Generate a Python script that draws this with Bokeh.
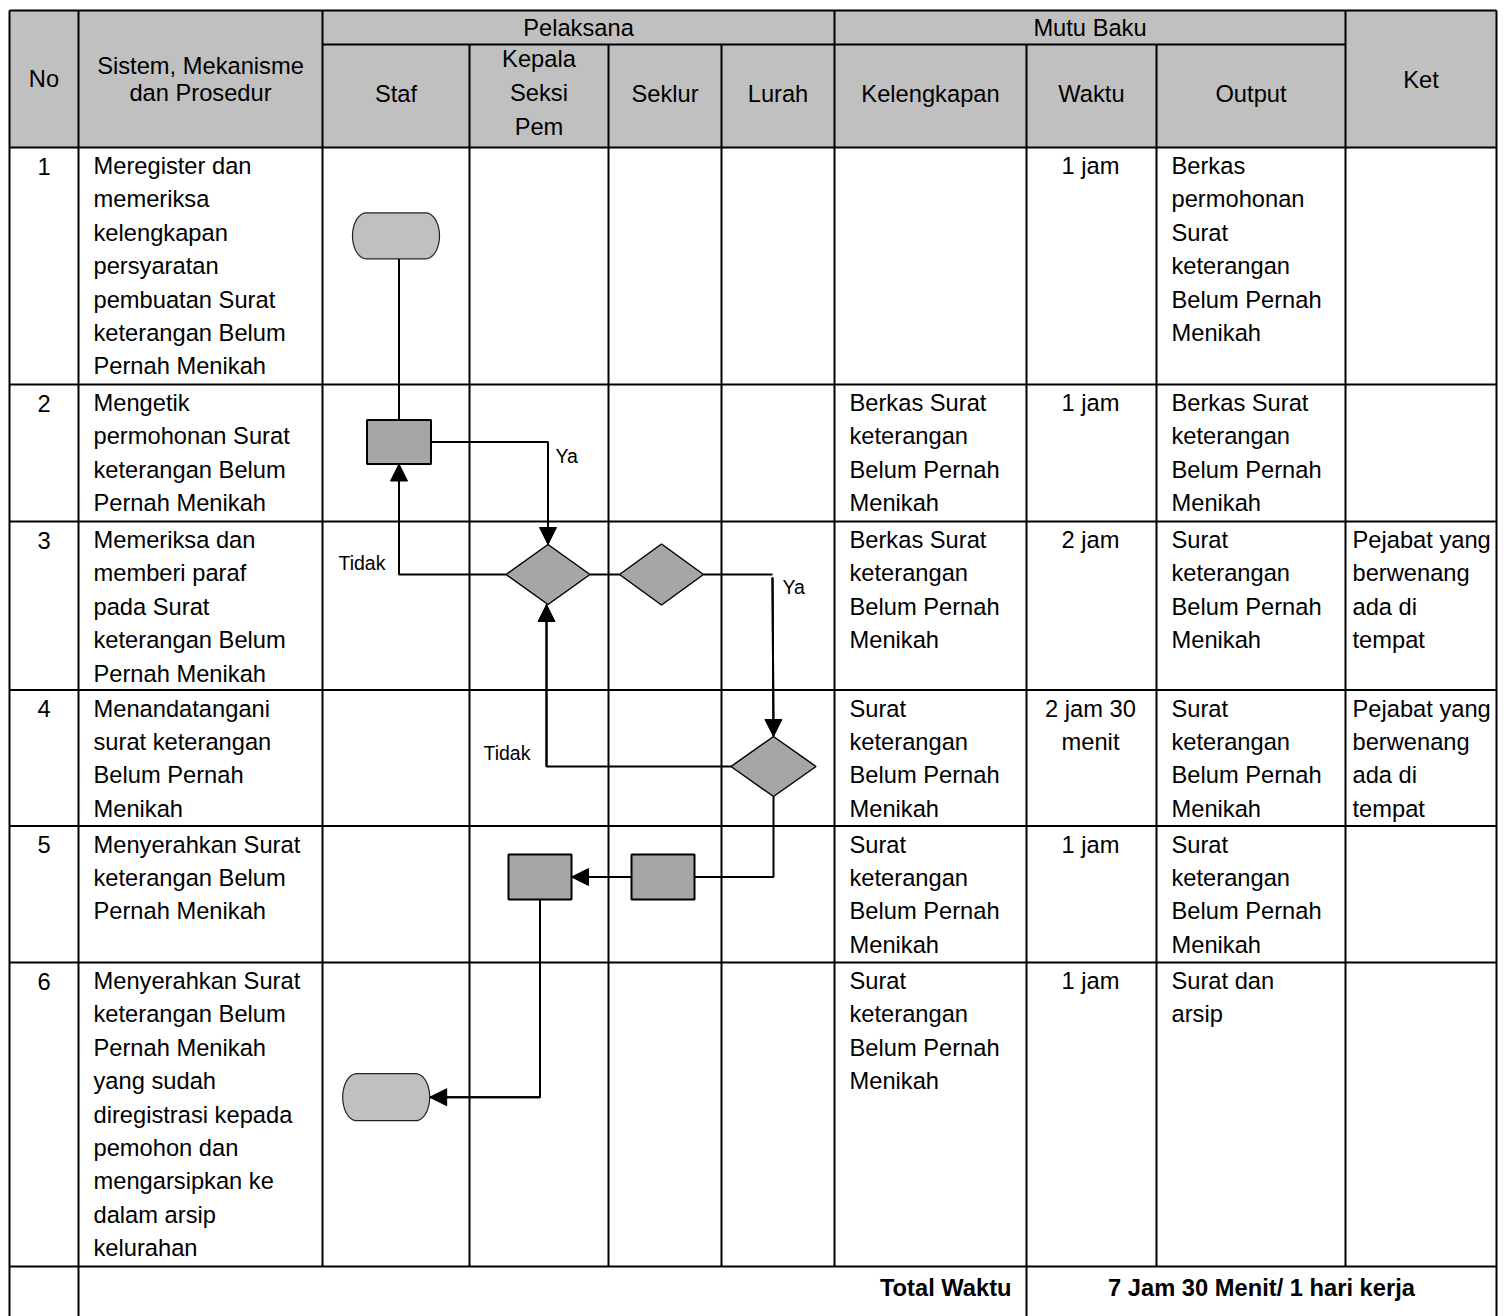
import numpy as np
from bokeh.plotting import figure
from bokeh.models import Range1d, ColumnDataSource, Arrow, NormalHead
from bokeh.core.properties import value
from bokeh.embed import file_html
from bokeh.resources import INLINE

# ---------------- data ----------------
group_headers = ["Pelaksana", "Mutu Baku"]
col_headers = {
    "No": ["No"],
    "Sistem": ["Sistem, Mekanisme", "dan Prosedur"],
    "Staf": ["Staf"],
    "Kepala": ["Kepala", "Seksi", "Pem"],
    "Seklur": ["Seklur"],
    "Lurah": ["Lurah"],
    "Kelengkapan": ["Kelengkapan"],
    "Waktu": ["Waktu"],
    "Output": ["Output"],
    "Ket": ["Ket"],
}
no_labels = ["1", "2", "3", "4", "5", "6"]
prosedur = [
    ["Meregister dan", "memeriksa", "kelengkapan", "persyaratan",
     "pembuatan Surat", "keterangan Belum", "Pernah Menikah"],
    ["Mengetik", "permohonan Surat", "keterangan Belum", "Pernah Menikah"],
    ["Memeriksa dan", "memberi paraf", "pada Surat", "keterangan Belum",
     "Pernah Menikah"],
    ["Menandatangani", "surat keterangan", "Belum Pernah", "Menikah"],
    ["Menyerahkan Surat", "keterangan Belum", "Pernah Menikah"],
    ["Menyerahkan Surat", "keterangan Belum", "Pernah Menikah", "yang sudah",
     "diregistrasi kepada", "pemohon dan", "mengarsipkan ke", "dalam arsip",
     "kelurahan"],
]
kelengkapan = [
    [],
    ["Berkas Surat", "keterangan", "Belum Pernah", "Menikah"],
    ["Berkas Surat", "keterangan", "Belum Pernah", "Menikah"],
    ["Surat", "keterangan", "Belum Pernah", "Menikah"],
    ["Surat", "keterangan", "Belum Pernah", "Menikah"],
    ["Surat", "keterangan", "Belum Pernah", "Menikah"],
]
waktu = [["1 jam"], ["1 jam"], ["2 jam"], ["2 jam 30", "menit"], ["1 jam"], ["1 jam"]]
output = [
    ["Berkas", "permohonan", "Surat", "keterangan", "Belum Pernah", "Menikah"],
    ["Berkas Surat", "keterangan", "Belum Pernah", "Menikah"],
    ["Surat", "keterangan", "Belum Pernah", "Menikah"],
    ["Surat", "keterangan", "Belum Pernah", "Menikah"],
    ["Surat", "keterangan", "Belum Pernah", "Menikah"],
    ["Surat dan", "arsip"],
]
ket = [
    [],
    [],
    ["Pejabat yang", "berwenang", "ada di", "tempat"],
    ["Pejabat yang", "berwenang", "ada di", "tempat"],
    [],
    [],
]
total_label = "Total Waktu"
total_value = "7 Jam 30 Menit/ 1 hari kerja"

# flowchart nodes and labels
node_names = ["T1", "R1", "D1", "D2", "D3", "RB", "RA", "T2"]
node_kind = ["term", "proc", "dec", "dec", "dec", "proc", "proc", "term"]
edge_labels = ["Ya", "Tidak", "Ya", "Tidak"]

# ---------------- layout ----------------
FONT = value("Liberation Sans")
FS = "23.7px"
CAP = 8.5          # half cap height (text y is placed at the visual centre)
X0, X1 = 9, 1496
col_x = [9, 78, 322, 469, 608, 721, 834, 1026, 1156, 1345, 1496]
Y_TOP, Y_SUB, Y_HEAD = 10, 44, 147
row_y = [147, 384, 521, 689.5, 825.5, 962, 1266]
Y_BOTTOM = 1316
LINE_PITCH = 33.4
FIRST_BASE = 27

node_x = [395.5, 398.5, 547.5, 661, 773, 662.5, 539.5, 385.7]
node_y = [235.3, 441.5, 574, 574, 766, 876.5, 876.5, 1096.7]
node_w = [87, 64, 84, 84, 85, 63, 63, 87]
node_h = [46, 44, 60, 61, 60, 45, 45, 47]
label_x = [555, 338, 782, 483]
label_y = [462, 569, 593, 759]

p = figure(width=1507, height=1316, x_range=Range1d(0, 1507), y_range=Range1d(1316, 0),
           output_backend="svg", toolbar_location=None, min_border=0,
           x_axis_location=None, y_axis_location=None)
p.grid.visible = False
p.outline_line_color = None
p.background_fill_color = "white"
p.border_fill_color = "white"

# header fill
p.quad(left=[X0], right=[X1], top=[Y_TOP], bottom=[Y_HEAD], fill_color="#c0c0c0", line_color=None)

# grid lines
hx0, hx1, hy = [], [], []
def hline(y, a, b):
    hx0.append(a); hx1.append(b); hy.append(y)
hline(Y_TOP, X0, X1)
hline(Y_SUB, col_x[2], col_x[9])
for y in row_y:
    hline(y, X0, X1)
p.segment(x0=hx0, x1=hx1, y0=hy, y1=hy, line_color="black", line_width=2)

vx, vy0, vy1 = [], [], []
def vline(x, a, b):
    vx.append(x); vy0.append(a); vy1.append(b)
vline(col_x[0], Y_TOP, Y_BOTTOM)
vline(col_x[1], Y_TOP, Y_BOTTOM)
vline(col_x[2], Y_TOP, row_y[-1])
for i in (3, 4, 5):
    vline(col_x[i], Y_SUB, row_y[-1])
vline(col_x[6], Y_TOP, row_y[-1])
vline(col_x[7], Y_SUB, Y_BOTTOM)
vline(col_x[8], Y_SUB, row_y[-1])
vline(col_x[9], Y_TOP, row_y[-1])
vline(col_x[10], Y_TOP, Y_BOTTOM)
p.segment(x0=vx, x1=vx, y0=vy0, y1=vy1, line_color="black", line_width=2)

# ---------------- texts ----------------
cx = [(col_x[i] + col_x[i + 1]) / 2 for i in range(len(col_x) - 1)]

def add_text(xs, ys, ts, align, size=FS, style="normal", half=CAP):
    src = ColumnDataSource(dict(x=xs, y=[v - half for v in ys], text=ts))
    p.text(x="x", y="y", text="text", source=src, text_font=FONT, text_font_size=size,
           text_align=align, text_baseline="middle", text_color="black",
           text_font_style=style)

# headers (positions given as baselines)
hxs, hys, hts = [], [], []
def head(lines, x, base, pitch):
    for i, t in enumerate(lines):
        hxs.append(x); hys.append(base + i * pitch); hts.append(t)
head([group_headers[0]], (col_x[2] + col_x[6]) / 2, 36, 0)
head([group_headers[1]], (col_x[6] + col_x[9]) / 2, 36, 0)
head(col_headers["No"], cx[0], 87, 0)
head(col_headers["Sistem"], cx[1], 74, 27)
head(col_headers["Staf"], cx[2], 102, 0)
head(col_headers["Kepala"], cx[3], 67, 34)
head(col_headers["Seklur"], cx[4], 102, 0)
head(col_headers["Lurah"], cx[5], 102, 0)
head(col_headers["Kelengkapan"], cx[6], 102, 0)
head(col_headers["Waktu"], cx[7], 102, 0)
head(col_headers["Output"], cx[8], 102, 0)
head(col_headers["Ket"], cx[9], 88, 0)
add_text(hxs, hys, hts, "center")

# body
cxs, cys, cts = [], [], []
lxs, lys, lts = [], [], []
def cell(lines, r, x, centered):
    for i, t in enumerate(lines):
        y = row_y[r] + FIRST_BASE + i * LINE_PITCH
        if centered:
            cxs.append(x); cys.append(y); cts.append(t)
        else:
            lxs.append(x); lys.append(y); lts.append(t)
for r in range(6):
    cell([no_labels[r]], r, cx[0], True)
    cell(prosedur[r], r, col_x[1] + 15, False)
    cell(kelengkapan[r], r, col_x[6] + 15, False)
    cell(waktu[r], r, cx[7] - 1, True)
    cell(output[r], r, col_x[8] + 15, False)
    cell(ket[r], r, col_x[9] + 7, False)
add_text(cxs, cys, cts, "center")
add_text(lxs, lys, lts, "left")

# total row
add_text([col_x[7] - 15], [1296], [total_label], "right", style="bold")
add_text([(col_x[7] + col_x[10]) / 2], [1296], [total_value], "center", style="bold")

# ---------------- flowchart ----------------
N = {n: dict(x=x, y=y, w=w, h=h, k=k) for n, x, y, w, h, k in
     zip(node_names, node_x, node_y, node_w, node_h, node_kind)}
def L(n): return (N[n]["x"] - N[n]["w"] / 2, N[n]["y"])
def R(n): return (N[n]["x"] + N[n]["w"] / 2, N[n]["y"])
def T(n): return (N[n]["x"], N[n]["y"] - N[n]["h"] / 2)
def B(n): return (N[n]["x"], N[n]["y"] + N[n]["h"] / 2)

edges = [
    ([(N["R1"]["x"], B("T1")[1]), T("R1")], False),
    ([R("R1"), (N["D1"]["x"], N["R1"]["y"]), T("D1")], True),
    ([L("D1"), (N["R1"]["x"], N["D1"]["y"]), B("R1")], True),
    ([R("D1"), L("D2")], False),
    ([R("D2"), (N["D3"]["x"] - 1, N["D2"]["y"])], False),
    ([(N["D3"]["x"] - 1, N["D2"]["y"] + 3), T("D3")], True),
    ([L("D3"), (N["D1"]["x"] - 1.5, N["D3"]["y"]), (N["D1"]["x"] - 1.5, B("D1")[1])], True),
    ([B("D3"), (N["D3"]["x"], N["RB"]["y"]), R("RB")], False),
    ([L("RB"), R("RA")], True),
    ([B("RA"), (N["RA"]["x"], N["T2"]["y"]), R("T2")], True),
]
exs, eys = [], []
ax0, ay0, ax1, ay1 = [], [], [], []
for pts, arrow in edges:
    exs.append([q[0] for q in pts]); eys.append([q[1] for q in pts])
    if arrow:
        ax0.append(pts[-2][0]); ay0.append(pts[-2][1])
        ax1.append(pts[-1][0]); ay1.append(pts[-1][1])
p.multi_line(xs=exs, ys=eys, line_color="black", line_width=2)
asrc = ColumnDataSource(dict(x0=ax0, y0=ay0, x1=ax1, y1=ay1))
p.add_layout(Arrow(end=NormalHead(size=17, fill_color="black", line_color="black", line_width=1),
                   x_start="x0", y_start="y0", x_end="x1", y_end="y1", source=asrc,
                   line_color="black", line_width=2))

# process boxes
proc = [n for n in node_names if N[n]["k"] == "proc"]
p.rect(x=[N[n]["x"] for n in proc], y=[N[n]["y"] for n in proc],
       width=[N[n]["w"] for n in proc], height=[N[n]["h"] for n in proc],
       fill_color="#a6a6a6", line_color="black", line_width=2)
# decisions
dec = [n for n in node_names if N[n]["k"] == "dec"]
dxs, dys = [], []
for n in dec:
    (lx, ly), (rx, ry), (tx, ty), (bx, by) = L(n), R(n), T(n), B(n)
    dxs.append([lx, tx, rx, bx]); dys.append([ly, ty, ry, by])
p.patches(xs=dxs, ys=dys, fill_color="#a6a6a6", line_color="black", line_width=1.5)
# terminators
term = [n for n in node_names if N[n]["k"] == "term"]
txs, tys = [], []
for n in term:
    x, y, w, h = N[n]["x"], N[n]["y"], N[n]["w"], N[n]["h"]
    rx, ry = 14, h / 2
    a = np.linspace(-np.pi / 2, np.pi / 2, 30)
    right_x = (x + w / 2 - rx) + rx * np.cos(a); right_y = y + ry * np.sin(a)
    b = np.linspace(np.pi / 2, 3 * np.pi / 2, 30)
    left_x = (x - w / 2 + rx) + rx * np.cos(b); left_y = y + ry * np.sin(b)
    txs.append(list(right_x) + list(left_x)); tys.append(list(right_y) + list(left_y))
p.patches(xs=txs, ys=tys, fill_color="#c0c0c0", line_color="#222222", line_width=1.2)

# edge labels
add_text(label_x, label_y, edge_labels, "left", size="19.5px", half=7)

open("out.html", "w").write(file_html(p, INLINE))
